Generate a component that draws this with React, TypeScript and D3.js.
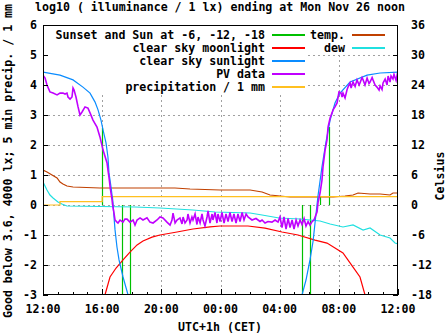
import React from "react";
import * as d3 from "d3";

const W = 447, H = 335;
const PL = 43, PR = 398, PT = 25, PB = 295;

const titleText = "log10 ( illuminance / 1 lx) ending at Mon Nov 26 noon";
const yLabelText = "Good below 3.6, 4000 lx; 5 min precip. / 1 mm";
const y2LabelText = "Celsius";
const xLabelText = "UTC+1h (CET)";

const xTickHours = [0, 4, 8, 12, 16, 20, 24];
const xTickLabels = ["12:00", "16:00", "20:00", "00:00", "04:00", "08:00", "12:00"];
const xMinorHours = [1, 2, 3, 5, 6, 7, 9, 10, 11, 13, 14, 15, 17, 18, 19, 21, 22, 23];
const yTicks = [-3, -2, -1, 0, 1, 2, 3, 4, 5, 6];
const y2Ticks = [-18, -12, -6, 0, 6, 12, 18, 24, 30, 36];

// clear sky sunlight (log10 lx)
const sunlight: [number, number][] = [
  [0, 4.43], [1.15, 4.33], [2.03, 4.17], [2.7, 3.93], [3.18, 3.73], [3.52, 3.43],
  [3.72, 3.17], [3.92, 2.83], [4.06, 2.5], [4.26, 2.07], [4.39, 1.6], [4.46, 1.07],
  [4.6, 0.6], [4.73, 0.07], [4.8, -0.4], [4.87, -0.83], [5.0, -1.4], [5.14, -1.83],
  [5.41, -2.4], [5.75, -3.0], [6.0, -3.8], [17.3, -3.8],
  [17.51, -3.0], [17.78, -2.5], [18.05, -1.83], [18.26, -1.2], [18.39, -0.6],
  [18.59, 0.3], [18.86, 1.27], [19.13, 2.1], [19.41, 2.83], [19.74, 3.4],
  [20.08, 3.73], [20.76, 4.1], [21.91, 4.33], [22.79, 4.4], [24, 4.43],
];

// clear sky moonlight
const moonlight: [number, number][] = [
  [4.0, -3.6], [4.19, -3.0], [4.53, -2.4], [4.94, -2.1], [5.41, -1.83], [5.88, -1.57],
  [6.36, -1.33], [6.76, -1.2], [7.37, -1.07], [7.91, -1.0], [9.06, -0.9], [10.14, -0.8],
  [11.29, -0.73], [11.97, -0.7], [13.86, -0.7], [15.01, -0.77], [16.16, -0.9],
  [17.24, -1.0], [18.39, -1.17], [19.2, -1.27], [19.74, -1.43], [20.28, -1.6],
  [20.96, -2.07], [21.43, -2.4], [21.77, -3.0], [22.0, -3.6],
];

// sunset / sunrise and sun at -6, -12, -18 degrees
const sunEventHours = [3.99, 4.67, 5.31, 5.88, 17.48, 18.05, 18.73, 19.34];
const sunEventValues = [2.57, 0.3, -3.5, -3.5, -3.5, -3.5, 0.27, 2.6];

// PV data (log10 lx)
const pvData: [number, number][] = [
  [0.0, 4.33], [0.14, 4.23], [0.27, 4.0], [0.47, 3.77], [0.68, 3.73], [0.95, 3.67],
  [1.15, 3.73], [1.35, 3.73], [1.49, 3.7], [1.62, 3.73], [1.69, 3.6], [1.83, 3.53],
  [1.96, 3.6], [2.03, 3.9], [2.1, 3.83], [2.23, 3.6], [2.37, 3.27], [2.5, 3.0],
  [2.64, 3.1], [2.84, 3.27], [3.04, 3.23], [3.18, 3.07], [3.38, 2.83], [3.65, 2.6],
  [3.85, 2.27], [4.06, 1.83], [4.33, 1.4], [4.39, 1.17], [4.46, 0.93], [4.55, 0.55],
  [4.67, 0.17], [4.73, -0.07], [4.8, -0.27], [4.87, -0.5], [5.0, -0.57], [5.07, -0.6],
  [5.21, -0.5], [5.41, -0.57], [5.54, -0.47], [5.68, -0.47], [5.88, -0.57], [6.09, -0.5],
  [6.22, -0.67], [6.36, -0.5], [6.56, -0.43], [6.76, -0.5], [7.03, -0.43], [7.23, -0.57],
  [7.44, -0.6], [7.71, -0.5], [7.91, -0.4], [8.11, -0.43], [8.38, -0.57], [8.59, -0.67],
  [8.72, -0.5], [8.79, -0.27], [8.93, -0.6], [9.06, -0.5], [9.26, -0.43], [9.4, -0.63],
  [9.47, -0.4], [9.6, -0.6], [9.74, -0.5], [9.8, -0.3], [9.94, -0.6], [10.07, -0.4],
  [10.14, -0.5], [10.28, -0.3], [10.41, -0.65], [10.48, -0.4], [10.62, -0.6], [10.75, -0.3],
  [10.82, -0.5], [10.95, -0.7], [11.09, -0.4], [11.16, -0.2], [11.29, -0.6], [11.43, -0.3],
  [11.49, -0.5], [11.63, -0.25], [11.76, -0.6], [11.83, -0.3], [11.97, -0.55], [12.1, -0.25],
  [12.24, -0.6], [12.37, -0.3], [12.51, -0.55], [12.64, -0.25], [12.78, -0.55], [12.91, -0.3],
  [13.05, -0.6], [13.18, -0.3], [13.32, -0.55], [13.46, -0.25], [13.59, -0.5], [13.73, -0.3],
  [13.86, -0.4], [14.13, -0.5], [14.4, -0.45], [14.67, -0.55], [14.81, -0.5], [15.01, -0.6],
  [15.21, -0.55], [15.48, -0.57], [15.69, -0.5], [15.89, -0.57], [16.02, -0.4], [16.16, -0.75],
  [16.29, -0.4], [16.43, -0.8], [16.57, -0.45], [16.7, -0.75], [16.84, -0.5], [16.97, -0.8],
  [17.11, -0.5], [17.24, -0.7], [17.38, -0.5], [17.51, -0.65], [17.65, -0.45], [17.78, -0.7],
  [17.92, -0.55], [18.05, -0.67], [18.19, -0.55], [18.32, -0.5], [18.53, -0.23], [18.59, 0.07],
  [18.73, 0.4], [18.86, 0.83], [18.93, 1.27], [19.07, 1.83], [19.2, 2.17], [19.27, 2.6],
  [19.41, 2.9], [19.54, 3.07], [19.61, 3.17], [19.74, 3.27], [19.88, 3.4], [19.95, 3.6],
  [20.01, 3.77], [20.15, 3.73], [20.22, 3.6], [20.28, 3.73], [20.42, 3.57], [20.55, 3.83],
  [20.62, 3.93], [20.76, 4.07], [20.83, 3.9], [20.89, 4.0], [20.96, 4.1], [21.1, 3.95],
  [21.23, 4.17], [21.37, 4.0], [21.43, 4.07], [21.57, 4.25], [21.64, 4.17], [21.77, 4.0],
  [21.91, 4.23], [22.04, 4.05], [22.11, 4.1], [22.25, 4.25], [22.31, 4.17], [22.45, 4.0],
  [22.58, 3.93], [22.72, 3.83], [22.79, 3.97], [22.92, 3.85], [22.99, 4.07], [23.13, 4.2],
  [23.26, 4.0], [23.33, 4.3], [23.46, 4.1], [23.53, 4.3], [23.66, 4.2], [23.73, 4.35],
  [23.87, 4.15], [23.94, 4.33], [24.0, 4.27],
];

// precipitation (left axis), step function
const precip: [number, number][] = [
  [0, 0], [1.15, 0.11], [4.0, 0.28], [24, 0.28],
];

// temperature, Celsius (right axis)
const temperature: [number, number][] = [
  [0, 7.0], [0.27, 6.6], [0.61, 6.0], [0.95, 5.4], [1.15, 4.6], [1.35, 4.2], [1.62, 3.8],
  [2.03, 3.6], [3.85, 3.4], [6.22, 3.4], [8.92, 3.4], [9.94, 3.2], [11.97, 3.0], [14.0, 3.0],
  [14.81, 2.6], [15.35, 2.0], [16.7, 1.6], [19.61, 1.6], [20.42, 1.8], [20.96, 2.0],
  [21.3, 2.4], [22.11, 2.2], [22.79, 2.2], [23.46, 2.0], [23.66, 2.4], [24, 2.4],
];

// dew point, Celsius (right axis)
const dew: [number, number][] = [
  [0, 4.6], [0.27, 3.0], [0.47, 2.0], [0.68, 1.4], [1.01, 0.6], [1.28, 0.2], [1.62, -0.2],
  [6.22, -0.4], [7.91, -0.6], [10.14, -1.0], [11.63, -1.4], [14.0, -1.6], [14.81, -2.0],
  [15.96, -2.6], [17.38, -2.8], [18.73, -3.2], [19.41, -3.8], [20.28, -4.4], [20.96, -4.0],
  [21.64, -5.0], [22.11, -4.6], [22.79, -6.0], [23.46, -6.6], [23.8, -7.6], [24, -7.8],
];

const C_GREEN = "#00c000";
const C_RED = "#ff0000";
const C_BLUE = "#0a8cff";
const C_PURPLE = "#c000ff";
const C_ORANGE = "#ffc020";
const C_BROWN = "#c04000";
const C_CYAN = "#20e0e0";

const legendLeft = [
  { label: "Sunset and Sun at -6, -12, -18", color: C_GREEN },
  { label: "clear sky moonlight", color: C_RED },
  { label: "clear sky sunlight", color: C_BLUE },
  { label: "PV data", color: C_PURPLE },
  { label: "precipitation / 1 mm", color: C_ORANGE },
];
const legendRight = [
  { label: "temp.", color: C_BROWN },
  { label: "dew", color: C_CYAN },
];

const FONT = "'DejaVu Sans Mono', 'Liberation Mono', monospace";

export default function App() {
  const x = d3.scaleLinear().domain([0, 24]).range([PL, PR]);
  const y = d3.scaleLinear().domain([-3, 6]).range([PB, PT]);
  const y2 = d3.scaleLinear().domain([-18, 36]).range([PB, PT]);

  const line1 = d3.line<[number, number]>().x((d) => x(d[0])).y((d) => y(d[1]));
  const line2 = d3.line<[number, number]>().x((d) => x(d[0])).y((d) => y2(d[1]));
  const stepLine = d3
    .line<[number, number]>()
    .x((d) => x(d[0]))
    .y((d) => y(d[1]))
    .curve(d3.curveStepAfter);

  const textStyle: React.CSSProperties = {
    fontFamily: FONT,
    fontWeight: "bold",
    fontSize: "11.6px",
  };

  const gridColor = "#a0a0a0";
  const rowY = (i: number) => 35 + i * 13;

  return (
    <svg
      width={W}
      height={H}
      style={{ position: "absolute", left: 0, top: 0, background: "#fff" }}
    >
      <rect x={0} y={0} width={W} height={H} fill="#fff" />
      <defs>
        <clipPath id="plotclip">
          <rect x={PL} y={PT} width={PR - PL} height={PB - PT} />
        </clipPath>
      </defs>

      {/* grid */}
      <g stroke={gridColor} strokeWidth={1} strokeDasharray="2,3" shapeRendering="crispEdges">
        {xTickHours.slice(1, -1).map((h) => (
          <line key={"gx" + h} x1={Math.round(x(h)) + 0.5} x2={Math.round(x(h)) + 0.5} y1={PT} y2={PB} />
        ))}
        {yTicks.slice(1, -1).map((v) => (
          <line key={"gy" + v} x1={PL} x2={PR} y1={Math.round(y(v)) + 0.5} y2={Math.round(y(v)) + 0.5} />
        ))}
      </g>

      {/* legend background */}
      <rect x={PL + 1} y={PT + 1} width={307 - PL - 1} height={95 - PT - 1} fill="#fff" />
      <rect x={307} y={PT + 1} width={PR - 307 - 1} height={54 - PT - 1} fill="#fff" />

      {/* data */}
      <g clipPath="url(#plotclip)" fill="none">
        {sunEventHours.map((h, i) => (
          <line
            key={"sun" + i}
            x1={Math.round(x(h)) + 0.5}
            x2={Math.round(x(h)) + 0.5}
            y1={y(0)}
            y2={y(sunEventValues[i])}
            stroke={C_GREEN}
            strokeWidth={1.2}
          />
        ))}
        <path d={line2(temperature) || ""} stroke={C_BROWN} strokeWidth={1.2} />
        <path d={line2(dew) || ""} stroke={C_CYAN} strokeWidth={1.2} />
        <path d={stepLine(precip) || ""} stroke={C_ORANGE} strokeWidth={1.2} />
        <path d={line1(moonlight) || ""} stroke={C_RED} strokeWidth={1.2} />
        <path d={line1(sunlight) || ""} stroke={C_BLUE} strokeWidth={1.2} />
        <path d={line1(pvData) || ""} stroke={C_PURPLE} strokeWidth={1.6} />
      </g>

      {/* frame */}
      <rect
        x={PL + 0.5}
        y={PT + 0.5}
        width={PR - PL - 1}
        height={PB - PT - 1}
        fill="none"
        stroke="#000"
        strokeWidth={1}
        shapeRendering="crispEdges"
      />

      {/* ticks */}
      <g stroke="#000" strokeWidth={1} shapeRendering="crispEdges">
        {xTickHours.map((h) => (
          <line key={"tx" + h} x1={Math.round(x(h)) + 0.5} x2={Math.round(x(h)) + 0.5} y1={PB} y2={PB - 6} />
        ))}
        {xMinorHours.map((h) => (
          <line key={"tmx" + h} x1={Math.round(x(h)) + 0.5} x2={Math.round(x(h)) + 0.5} y1={PB} y2={PB - 3} />
        ))}
        {yTicks.map((v) => (
          <line key={"ty" + v} x1={PL} x2={PL + 5} y1={Math.round(y(v)) + 0.5} y2={Math.round(y(v)) + 0.5} />
        ))}
        {y2Ticks.map((v) => (
          <line key={"ty2" + v} x1={PR} x2={PR - 5} y1={Math.round(y2(v)) + 0.5} y2={Math.round(y2(v)) + 0.5} />
        ))}
      </g>

      {/* legend sample lines */}
      <g strokeWidth={1.5} shapeRendering="crispEdges">
        {legendLeft.map((e, i) => (
          <line key={"lgll" + i} x1={272} x2={305} y1={rowY(i)} y2={rowY(i)} stroke={e.color} />
        ))}
        {legendRight.map((e, i) => (
          <line key={"lgrl" + i} x1={352} x2={385} y1={rowY(i)} y2={rowY(i)} stroke={e.color} />
        ))}
      </g>

      <g style={textStyle} fill="#000">
        {/* tick labels */}
        {yTicks.map((v) => (
          <text key={"ly" + v} x={37} y={y(v) + 4} textAnchor="end">
            {v < 0 ? "-" + Math.abs(v) : String(v)}
          </text>
        ))}
        {y2Ticks.map((v) => (
          <text key={"ly2" + v} x={411} y={y2(v) + 4} textAnchor="start">
            {v < 0 ? "-" + Math.abs(v) : String(v)}
          </text>
        ))}
        {xTickHours.map((h, i) => (
          <text key={"lx" + h} x={x(h)} y={313} textAnchor="middle">
            {xTickLabels[i]}
          </text>
        ))}

        {/* titles */}
        <text x={220} y={11} textAnchor="middle">{titleText}</text>
        <text x={220} y={331} textAnchor="middle">{xLabelText}</text>
        <text x={12} y={161} textAnchor="middle" transform="rotate(-90 12 161)">
          {yLabelText}
        </text>
        <text x={444} y={176} textAnchor="middle" transform="rotate(-90 444 176)">
          {y2LabelText}
        </text>

        {/* legend text */}
        {legendLeft.map((e, i) => (
          <text key={"lgl" + i} x={265} y={rowY(i) + 4} textAnchor="end">{e.label}</text>
        ))}
        {legendRight.map((e, i) => (
          <text key={"lgr" + i} x={345} y={rowY(i) + 4} textAnchor="end">{e.label}</text>
        ))}
      </g>
    </svg>
  );
}
